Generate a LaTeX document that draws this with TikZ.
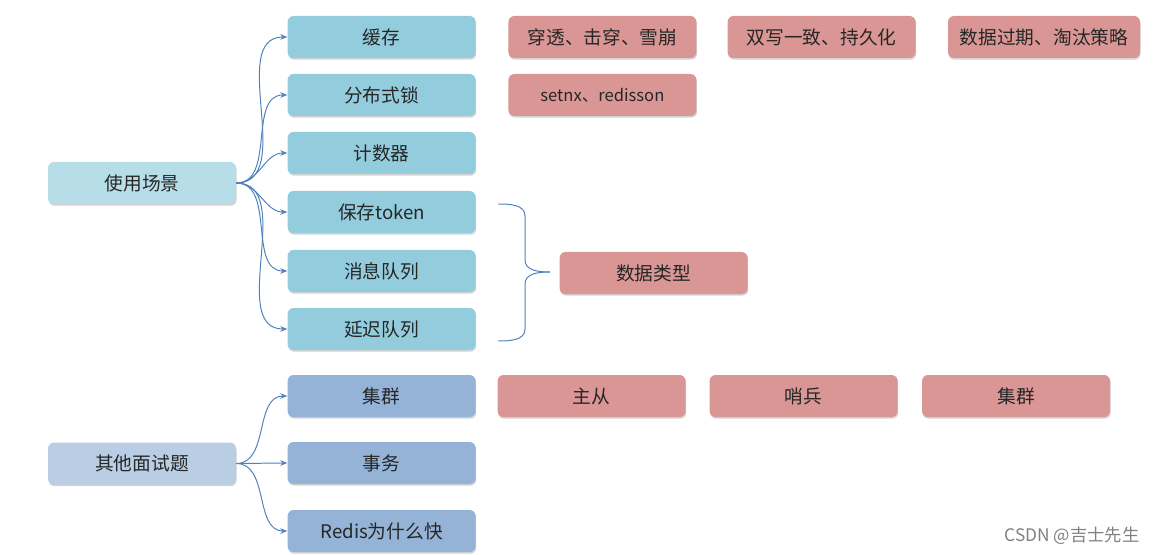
\documentclass[tikz,border=0pt]{standalone}
\usepackage{fontspec}
\setmainfont{Noto Sans CJK SC}
\usetikzlibrary{shadows,arrows.meta}
\definecolor{rootcyan}{HTML}{B7DEE8}
\definecolor{itemcyan}{HTML}{93CDDD}
\definecolor{rootblue}{HTML}{B9CDE5}
\definecolor{itemblue}{HTML}{95B3D7}
\definecolor{notered}{HTML}{D99694}
\definecolor{linkblue}{HTML}{4F81BD}
\definecolor{txtgray}{HTML}{262626}
\begin{document}
\begin{tikzpicture}[
    box/.style={rounded corners=0.15cm, minimum width=4.7cm, minimum height=1.05cm,
      text=txtgray, font=\fontsize{13.3}{15}\selectfont,
      drop shadow={opacity=0.35, shadow xshift=0.4pt, shadow yshift=-1.2pt}},
    scenebox/.style={box, fill=itemcyan},
    otherbox/.style={box, fill=itemblue},
    notebox/.style={box, fill=notered},
    link/.style={linkblue, line width=0.7pt, -{Stealth[length=5pt,width=4pt]}}
  ]
    \useasboundingbox (0,0) rectangle (28.9,13.85) ;
    % first group
    \node[box, fill=rootcyan] at (3.55,9.275) (scene) {使用场景} ;
    \node[scenebox] at (9.54,12.925) (cache) {缓存} ;
    \node[scenebox] at (9.54,11.475) (lock) {分布式锁} ;
    \node[scenebox] at (9.54,10.025) (counter) {计数器} ;
    \node[scenebox] at (9.54,8.55) (token) {保存token} ;
    \node[scenebox] at (9.54,7.075) (queue) {消息队列} ;
    \node[scenebox] at (9.54,5.625) (delay) {延迟队列} ;
    \foreach \n in {cache,lock,counter,token,queue,delay}
      \draw[link] (scene.east) to[out=0,in=180] (\n.west) ;
    \node[notebox] at (15.06,12.925) (pierce) {穿透、击穿、雪崩} ;
    \node[notebox] at (20.54,12.925) (dwrite) {双写一致、持久化} ;
    \node[notebox, minimum width=4.8cm] at (26.1,12.925) (expire) {数据过期、淘汰策略} ;
    \node[notebox, font=\fontsize{11.8}{14}\selectfont] at (15.06,11.475) (setnx) {setnx、redisson} ;
    % brace
    \coordinate (btop) at (12.45,8.75) ;
    \coordinate (bbot) at (12.45,5.325) ;
    \coordinate (btip) at (13.75,7.05) ;
    \draw[linkblue, line width=0.7pt] (btop) to[out=0,in=90] (13.125,8.45) -- (13.125,7.35)
      to[out=-90,in=180] (btip) ;
    \draw[linkblue, line width=0.7pt] (bbot) to[out=0,in=-90] (13.125,5.625) -- (13.125,6.75)
      to[out=90,in=180] (btip) ;
    \node[notebox] at (16.34,7.025) (dtype) {数据类型} ;
    % second group
    \node[box, fill=rootblue] at (3.55,2.2625) (other) {其他面试题} ;
    \node[otherbox] at (9.54,3.95) (cluster) {集群} ;
    \node[otherbox] at (9.54,2.275) (trans) {事务} ;
    \node[otherbox] at (9.54,0.575) (fast) {Redis为什么快} ;
    \foreach \n in {cluster,trans,fast}
      \draw[link] (other.east) to[out=0,in=180] (\n.west) ;
    \node[notebox] at (14.79,3.95) (master) {主从} ;
    \node[notebox] at (20.09,3.95) (sentinel) {哨兵} ;
    \node[notebox] at (25.4,3.95) (cluster2) {集群} ;
    \node[text=gray, font=\fontsize{12.3}{14}\selectfont] at (26.8,0.45) (mark) {CSDN @吉士先生} ;
  \end{tikzpicture}
\end{document}
